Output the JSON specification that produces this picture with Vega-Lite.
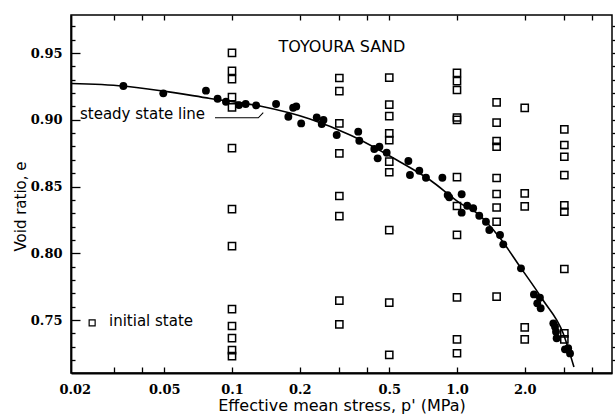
{
  "$schema": "https://vega.github.io/schema/vega-lite/v6.json",
  "width": 541,
  "height": 358,
  "autosize": "none",
  "padding": {"left": 71, "top": 15, "right": 3, "bottom": 41},
  "background": "white",
  "config": {
    "view": {"stroke": "black", "strokeWidth": 1.5},
    "axis": {
      "domainColor": "black",
      "domainWidth": 1.8,
      "tickColor": "black",
      "tickWidth": 1.3,
      "grid": false,
      "labelFont": "DejaVu Serif",
      "labelFontWeight": "bold",
      "labelFontSize": 13,
      "labelColor": "black",
      "titleFont": "DejaVu Sans",
      "titleFontWeight": "normal",
      "titleFontSize": 15,
      "titleColor": "black"
    },
    "text": {"font": "DejaVu Sans", "fontSize": 15, "color": "black"}
  },
  "datasets": {
    "steadyLine": [
      {"p": 0.0193, "e": 0.9272}, {"p": 0.0329, "e": 0.9253}, {"p": 0.0495, "e": 0.9215},
      {"p": 0.0799, "e": 0.916}, {"p": 0.133, "e": 0.9103}, {"p": 0.222, "e": 0.9006},
      {"p": 0.335, "e": 0.8886}, {"p": 0.54, "e": 0.8699}, {"p": 0.759, "e": 0.8549},
      {"p": 1.031, "e": 0.8376}, {"p": 1.227, "e": 0.8301}, {"p": 1.553, "e": 0.8114},
      {"p": 1.905, "e": 0.79}, {"p": 2.41, "e": 0.765}, {"p": 2.96, "e": 0.7403},
      {"p": 3.31, "e": 0.7148}
    ],
    "steadyState": [
      {"p": 0.0329, "e": 0.9253}, {"p": 0.0495, "e": 0.9198}, {"p": 0.0766, "e": 0.9218},
      {"p": 0.0863, "e": 0.9158}, {"p": 0.094, "e": 0.9135}, {"p": 0.1074, "e": 0.911},
      {"p": 0.115, "e": 0.9118}, {"p": 0.128, "e": 0.9108}, {"p": 0.157, "e": 0.9118},
      {"p": 0.178, "e": 0.9023}, {"p": 0.187, "e": 0.909}, {"p": 0.193, "e": 0.910},
      {"p": 0.203, "e": 0.8973}, {"p": 0.238, "e": 0.9018}, {"p": 0.2505, "e": 0.8968},
      {"p": 0.255, "e": 0.8998}, {"p": 0.292, "e": 0.8886}, {"p": 0.364, "e": 0.8911},
      {"p": 0.368, "e": 0.8843}, {"p": 0.429, "e": 0.8781}, {"p": 0.452, "e": 0.8798},
      {"p": 0.444, "e": 0.8711}, {"p": 0.487, "e": 0.8753}, {"p": 0.608, "e": 0.8691},
      {"p": 0.618, "e": 0.8586}, {"p": 0.68, "e": 0.8618}, {"p": 0.728, "e": 0.8566},
      {"p": 0.861, "e": 0.8566}, {"p": 0.909, "e": 0.8436}, {"p": 0.924, "e": 0.8419},
      {"p": 1.049, "e": 0.8442}, {"p": 1.11, "e": 0.8356}, {"p": 1.049, "e": 0.8304},
      {"p": 1.18, "e": 0.8337}, {"p": 1.256, "e": 0.8281}, {"p": 1.345, "e": 0.8236},
      {"p": 1.392, "e": 0.8174}, {"p": 1.553, "e": 0.8137}, {"p": 1.606, "e": 0.8067},
      {"p": 1.925, "e": 0.7887}, {"p": 2.198, "e": 0.7692}, {"p": 2.337, "e": 0.7667},
      {"p": 2.274, "e": 0.7625}, {"p": 2.355, "e": 0.7588}, {"p": 2.68, "e": 0.7475},
      {"p": 2.727, "e": 0.745}, {"p": 2.755, "e": 0.7412}, {"p": 2.773, "e": 0.7363},
      {"p": 3.02, "e": 0.728}, {"p": 3.12, "e": 0.7288}, {"p": 3.18, "e": 0.725}
    ],
    "initialState": [
      {"p": 0.1, "e": 0.9502}, {"p": 0.1, "e": 0.9367}, {"p": 0.1, "e": 0.9305},
      {"p": 0.1, "e": 0.917}, {"p": 0.1, "e": 0.9093}, {"p": 0.1, "e": 0.8788},
      {"p": 0.1, "e": 0.8331}, {"p": 0.1, "e": 0.8054}, {"p": 0.1, "e": 0.7582},
      {"p": 0.1, "e": 0.7455}, {"p": 0.1, "e": 0.7365}, {"p": 0.1, "e": 0.7275},
      {"p": 0.1, "e": 0.723},
      {"p": 0.3, "e": 0.9313}, {"p": 0.3, "e": 0.9215}, {"p": 0.3, "e": 0.8973},
      {"p": 0.3, "e": 0.8749}, {"p": 0.3, "e": 0.8429}, {"p": 0.3, "e": 0.8279},
      {"p": 0.3, "e": 0.7645}, {"p": 0.3, "e": 0.7468},
      {"p": 0.5, "e": 0.9316}, {"p": 0.5, "e": 0.9114}, {"p": 0.5, "e": 0.9028},
      {"p": 0.5, "e": 0.8898}, {"p": 0.5, "e": 0.8848}, {"p": 0.5, "e": 0.8686},
      {"p": 0.5, "e": 0.8607}, {"p": 0.5, "e": 0.8174}, {"p": 0.5, "e": 0.763},
      {"p": 0.5, "e": 0.7238},
      {"p": 1.0, "e": 0.9352}, {"p": 1.0, "e": 0.929}, {"p": 1.0, "e": 0.9223},
      {"p": 1.0, "e": 0.9017}, {"p": 1.0, "e": 0.9}, {"p": 1.0, "e": 0.8571},
      {"p": 1.0, "e": 0.8354}, {"p": 1.0, "e": 0.8137}, {"p": 1.0, "e": 0.767},
      {"p": 1.0, "e": 0.7355}, {"p": 1.0, "e": 0.7251},
      {"p": 1.5, "e": 0.9131}, {"p": 1.5, "e": 0.8979}, {"p": 1.5, "e": 0.8841},
      {"p": 1.5, "e": 0.8798}, {"p": 1.5, "e": 0.8564}, {"p": 1.5, "e": 0.8444},
      {"p": 1.5, "e": 0.8343}, {"p": 1.5, "e": 0.8236}, {"p": 1.5, "e": 0.7675},
      {"p": 2.0, "e": 0.909}, {"p": 2.0, "e": 0.8449}, {"p": 2.0, "e": 0.8352},
      {"p": 2.0, "e": 0.7445}, {"p": 2.0, "e": 0.7355},
      {"p": 3.0, "e": 0.8928}, {"p": 3.0, "e": 0.8811}, {"p": 3.0, "e": 0.8723},
      {"p": 3.0, "e": 0.8586}, {"p": 3.0, "e": 0.8358}, {"p": 3.0, "e": 0.8311},
      {"p": 3.0, "e": 0.7882}, {"p": 3.0, "e": 0.74}, {"p": 3.0, "e": 0.7355}
    ],
    "leader": [
      {"p": 0.084, "e": 0.9015, "k": 0}, {"p": 0.1309, "e": 0.9015, "k": 1}, {"p": 0.1377, "e": 0.9053, "k": 2}
    ],
    "centredLabels": [
      {"p": 0.308, "e": 0.951, "txt": "TOYOURA SAND"}
    ],
    "leftLabels": [
      {"p": 0.0211, "e": 0.9009, "txt": "steady state line"},
      {"p": 0.0284, "e": 0.7455, "txt": "initial state"}
    ],
    "legendKey": [{"p": 0.0239, "e": 0.7478}]
  },
  "resolve": {"axis": {"x": "independent", "y": "independent"}},
  "layer": [
    {
      "data": {"name": "steadyLine"},
      "mark": {"type": "line", "interpolate": "monotone", "color": "black", "strokeWidth": 1.6},
      "encoding": {
        "x": {
          "field": "p", "type": "quantitative",
          "scale": {"type": "log", "domain": [0.01925, 4.886], "nice": false, "zero": false},
          "axis": {
            "orient": "bottom",
            "values": [0.02, 0.05, 0.1, 0.2, 0.5, 1, 2],
            "labelExpr": "datum.value >= 1 ? format(datum.value, '.1f') : format(datum.value, '')",
            "ticks": false,
            "labelPadding": 10,
            "labelFlush": false,
            "labelOverlap": false,
            "title": "Effective mean stress, p' (MPa)",
            "titleFontSize": 16,
            "titleBaseline": "alphabetic",
            "titleY": 37
          }
        },
        "y": {
          "field": "e", "type": "quantitative",
          "scale": {"domain": [0.7103, 0.9785], "nice": false, "zero": false},
          "axis": {
            "orient": "left",
            "values": [0.75, 0.8, 0.85, 0.9, 0.95],
            "format": ".2f",
            "ticks": false,
            "labelPadding": 9,
            "labelOverlap": false,
            "labelFlush": false,
            "title": "Void ratio, e",
            "titleX": -43,
            "titleY": 191
          }
        }
      }
    },
    {
      "data": {"name": "steadyState"},
      "mark": {"type": "circle", "color": "black", "opacity": 1, "size": 62},
      "encoding": {
        "x": {
          "field": "p", "type": "quantitative",
          "axis": {
            "orient": "top",
            "offset": -358,
            "values": [0.03, 0.04, 0.05, 0.1, 0.2, 0.3, 0.4, 0.5, 1, 2, 3, 4],
            "labels": false, "domain": false, "tickSize": 6, "title": null
          }
        },
        "y": {
          "field": "e", "type": "quantitative",
          "axis": {
            "orient": "right",
            "offset": -541,
            "values": [0.72, 0.73, 0.74, 0.75, 0.76, 0.77, 0.78, 0.79, 0.8, 0.81, 0.82, 0.83, 0.84, 0.85, 0.86, 0.87, 0.88, 0.89, 0.9, 0.91, 0.92, 0.93, 0.94, 0.95, 0.96, 0.97],
            "tickSize": {"condition": {"test": "abs(datum.value * 20 - round(datum.value * 20)) < 0.001", "value": 9}, "value": 4},
            "labels": false, "domain": false, "title": null
          }
        }
      }
    },
    {
      "data": {"name": "initialState"},
      "mark": {"type": "square", "filled": false, "color": "black", "strokeWidth": 1.5, "size": 52, "opacity": 1},
      "encoding": {
        "x": {
          "field": "p", "type": "quantitative",
          "axis": {
            "orient": "bottom",
            "offset": -358,
            "values": [0.03, 0.04, 0.05, 0.1, 0.2, 0.3, 0.4, 0.5, 1, 2, 3, 4],
            "labels": false, "domain": false, "tickSize": 5, "title": null
          }
        },
        "y": {
          "field": "e", "type": "quantitative",
          "axis": {
            "orient": "right",
            "values": [0.72, 0.73, 0.74, 0.75, 0.76, 0.77, 0.78, 0.79, 0.8, 0.81, 0.82, 0.83, 0.84, 0.85, 0.86, 0.87, 0.88, 0.89, 0.9, 0.91, 0.92, 0.93, 0.94, 0.95, 0.96, 0.97],
            "labels": false, "domain": false, "tickSize": 3, "title": null
          }
        }
      }
    },
    {
      "data": {"name": "legendKey"},
      "mark": {"type": "square", "filled": false, "color": "black", "strokeWidth": 1.2, "size": 36, "opacity": 1},
      "encoding": {
        "x": {"field": "p", "type": "quantitative", "axis": null},
        "y": {"field": "e", "type": "quantitative", "axis": null}
      }
    },
    {
      "data": {"name": "leader"},
      "mark": {"type": "line", "color": "black", "strokeWidth": 1.1},
      "encoding": {
        "x": {"field": "p", "type": "quantitative", "axis": null},
        "y": {"field": "e", "type": "quantitative", "axis": null},
        "order": {"field": "k"}
      }
    },
    {
      "data": {"name": "centredLabels"},
      "mark": {"type": "text", "baseline": "alphabetic", "align": "center", "fontSize": 16},
      "encoding": {
        "x": {"field": "p", "type": "quantitative", "axis": null},
        "y": {"field": "e", "type": "quantitative", "axis": null},
        "text": {"field": "txt"}
      }
    },
    {
      "data": {"name": "leftLabels"},
      "mark": {"type": "text", "baseline": "alphabetic", "align": "left"},
      "encoding": {
        "x": {"field": "p", "type": "quantitative", "axis": null},
        "y": {"field": "e", "type": "quantitative", "axis": null},
        "text": {"field": "txt"}
      }
    }
  ]
}
